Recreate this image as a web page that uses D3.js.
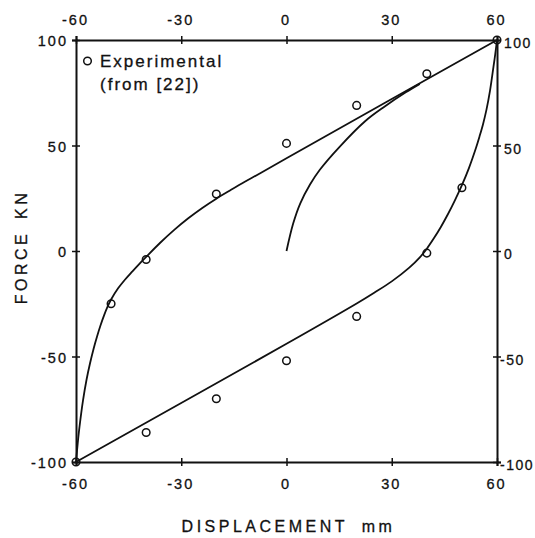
<!DOCTYPE html>
<html>
<head>
<meta charset="utf-8">
<script src="https://cdn.jsdelivr.net/npm/d3@7"></script>
<style>
    body { margin: 0; background: #fff; }
    text { font-family: "Liberation Sans", Arial, sans-serif; fill: #111; stroke: #111; stroke-width: 0.3px; }
</style>
</head>
<body>
<div id="chart"></div>
<script>
// ticks
const xTicks = [-60, -30, 0, 30, 60];
const yTicks = [-100, -50, 0, 50, 100];

// experimental points (from [22])
const expX = [-60, -50, -40, -20, 0, 20, 40, 60, 50, 40, 20, 0, -20, -40];
const expY = [-100, -25, -4, 27, 51, 69, 84, 100, 30, -1, -31, -52, -70, -86];

// upper branch of the loop (loading)
const upperX = [-60, -59.5, -59, -58, -57, -56, -55, -54, -53, -52, -51, -50, -48, -46, -44, -42, -40,
    -36, -32, -28, -24, -20, -16, -12, -8, 0, 60];
const upperY = [-100, -91, -83.3, -70.8, -61, -53.2, -46.4, -40.5, -35.2, -30.5, -26.4, -23, -17.7, -13.5, -9.8, -6.2, -2.8,
    3.9, 10, 15.5, 20.4, 24.8, 28.8, 32.7, 36.4, 44, 100];

// lower branch of the loop (unloading)
const lowerX = [-60, 0, 20, 25, 30, 35, 38, 40, 42, 44, 46, 48, 50, 52, 54, 55, 56, 57, 58, 59, 59.5, 60];
const lowerY = [-100, -44, -24.9, -19.8, -14.4, -7.9, -3, 1.1, 6, 11.4, 17.4, 24, 31.2, 39.3, 48.8, 54.2, 60, 67, 75.9, 87.4, 93.3, 100];

// initial (virgin) loading curve
const virginX = [0, 1.9, 3.9, 6.7, 9.5, 15.2, 22.4, 28, 34, 38];
const virginY = [0, 13, 22.5, 31.5, 38.5, 49.5, 61.5, 68.5, 75.2, 79.2];

const width = 535, height = 538;
const plot = { left: 76, right: 497, top: 40, bottom: 462 };

const svg = d3.select("#chart").append("svg")
    .attr("width", width)
    .attr("height", height);

const x = d3.scaleLinear().domain([-60, 60]).range([plot.left, plot.right]);
const y = d3.scaleLinear().domain([-100, 100]).range([plot.bottom, plot.top]);

// plain hyphen for negatives, as in the original figure
const fmt = d => String(d);

function styleAxis(g, vertical, labelShift) {
    g.select(".domain").attr("stroke", "#111").attr("stroke-width", 2);
    g.selectAll(".tick line").attr("stroke", "#111").attr("stroke-width", 1.5);
    if (vertical) {
        g.selectAll(".tick line").attr("x1", -4).attr("x2", 4);
    } else {
        g.selectAll(".tick line").attr("y1", -4).attr("y2", 4);
    }
    g.selectAll(".tick text")
        .style("font-size", "14.5px")
        .style("letter-spacing", "2px")
        .attr("fill", "#111");
    if (labelShift) labelShift(g.selectAll(".tick text"));
}

svg.append("g")
    .attr("transform", `translate(0,${plot.bottom})`)
    .call(d3.axisBottom(x).tickValues(xTicks).tickFormat(fmt).tickSizeOuter(0).tickSize(4))
    .call(g => styleAxis(g, false, t => t.attr("x", -1).attr("y", 17)));

svg.append("g")
    .attr("transform", `translate(0,${plot.top})`)
    .call(d3.axisTop(x).tickValues(xTicks).tickFormat(fmt).tickSizeOuter(0).tickSize(4))
    .call(g => styleAxis(g, false, t => t.attr("x", -1).attr("y", -15)));

svg.append("g")
    .attr("transform", `translate(${plot.left},0)`)
    .call(d3.axisLeft(y).tickValues(yTicks).tickFormat(fmt).tickSizeOuter(0).tickSize(4))
    .call(g => styleAxis(g, true, t => t.attr("x", -8).attr("dy", "0.38em")));

svg.append("g")
    .attr("transform", `translate(${plot.right},0)`)
    .call(d3.axisRight(y).tickValues(yTicks).tickFormat(fmt).tickSizeOuter(0).tickSize(4))
    .call(g => styleAxis(g, true, t => t.attr("x", d => d < 0 ? 3 : 7)
        .attr("dy", "0.55em")
        .style("font-size", "14px")
        .style("letter-spacing", "1.5px")));

const line = d3.line()
    .x(d => x(d[0]))
    .y(d => y(d[1]))
    .curve(d3.curveCatmullRom.alpha(0.5));

const curves = [
    d3.zip(upperX, upperY),
    d3.zip(lowerX, lowerY),
    d3.zip(virginX, virginY)
];

svg.append("g")
    .selectAll("path")
    .data(curves)
    .join("path")
    .attr("d", line)
    .attr("fill", "none")
    .attr("stroke", "#111")
    .attr("stroke-width", 1.8);

svg.append("g")
    .selectAll("circle")
    .data(d3.zip(expX, expY))
    .join("circle")
    .attr("cx", d => x(d[0]))
    .attr("cy", d => y(d[1]))
    .attr("r", 3.8)
    .attr("fill", "none")
    .attr("stroke", "#111")
    .attr("stroke-width", 1.5);

// legend
svg.append("circle")
    .attr("cx", 87.5)
    .attr("cy", 61)
    .attr("r", 3.8)
    .attr("fill", "none")
    .attr("stroke", "#111")
    .attr("stroke-width", 1.5);

svg.append("text")
    .attr("x", 100)
    .attr("y", 67)
    .style("font-size", "17px")
    .style("letter-spacing", "2px")
    .text("Experimental");

svg.append("text")
    .attr("x", 100)
    .attr("y", 90)
    .style("font-size", "17px")
    .style("letter-spacing", "2px")
    .text("(from [22])");

// axis titles
svg.append("text")
    .attr("x", (plot.left + plot.right) / 2 + 2)
    .attr("y", 532)
    .attr("text-anchor", "middle")
    .style("font-size", "16px")
    .style("letter-spacing", "3.5px")
    .style("word-spacing", "6px")
    .text("DISPLACEMENT mm");

svg.append("text")
    .attr("transform", `translate(27,${(plot.top + plot.bottom) / 2 - 4}) rotate(-90)`)
    .attr("text-anchor", "middle")
    .style("font-size", "16px")
    .style("letter-spacing", "3.5px")
    .style("word-spacing", "4px")
    .text("FORCE KN");
</script>
</body>
</html>
